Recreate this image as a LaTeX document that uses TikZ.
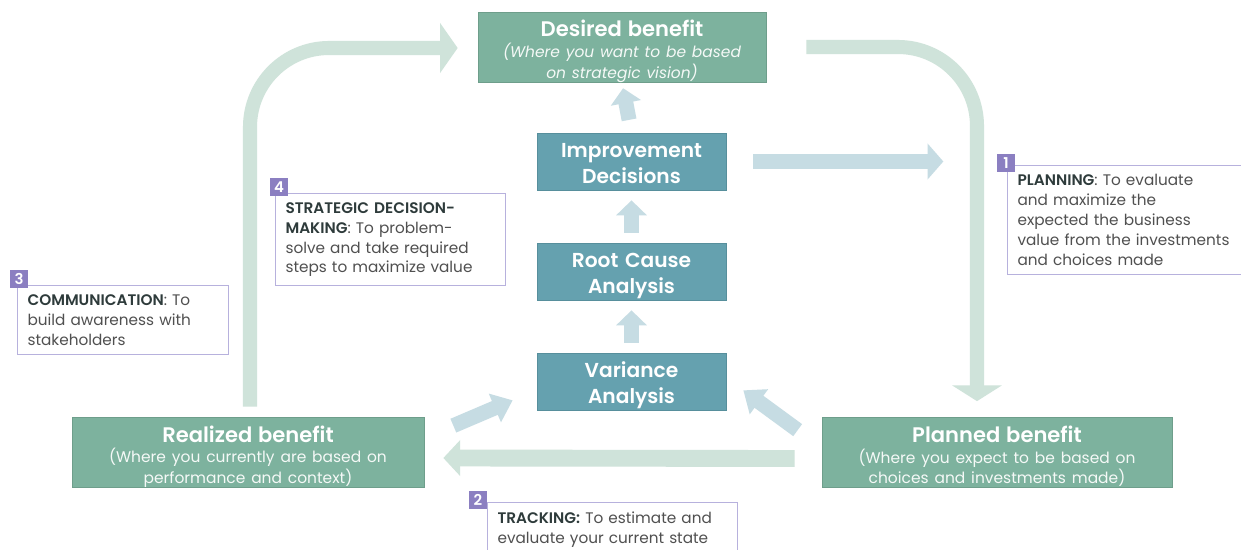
\documentclass[tikz,border=0pt]{standalone}
\usepackage{fontspec}
\setmainfont{Poppins}[BoldFont={Poppins SemiBold}]
\usetikzlibrary{arrows.meta,calc}

\newdimen\pxu \pxu=0.02cm
\definecolor{benefitfill}{HTML}{7DB29E}
\definecolor{benefitedge}{HTML}{6E9E8B}
\definecolor{stepfill}{HTML}{65A1AF}
\definecolor{stepedge}{HTML}{578F9C}
\definecolor{paleblue}{HTML}{C6DCE3}
\definecolor{palegreen}{HTML}{CFE3DA}
\definecolor{notepurple}{HTML}{8B7FC1}
\definecolor{noteline}{HTML}{B7B1DD}
\definecolor{notetext}{HTML}{505050}
\definecolor{notekey}{HTML}{2E3B3B}

\tikzset{
  benefit/.style={draw=benefitedge, fill=benefitfill, text=white, align=center,
    minimum height=70\pxu, inner sep=0pt, text height=10\pxu, text depth=30\pxu},
  analysis/.style={draw=stepedge, fill=stepfill, text=white, align=center,
    minimum width=189\pxu, text width=189\pxu, minimum height=57\pxu, inner sep=0pt,
    text height=10\pxu, text depth=17\pxu,
    font=\fontsize{11.5}{14.7}\selectfont\bfseries},
  note/.style={draw=noteline, line width=0.6pt, anchor=north west, align=left,
    text=notetext, inner xsep=10\pxu, inner ysep=9\pxu,
    font=\fontsize{8.7}{11.3}\selectfont},
  numsq/.style={fill=notepurple, text=white, minimum size=18\pxu, inner sep=0pt,
    font=\fontsize{8.5}{9}\selectfont\bfseries},
  greenarrow/.style={draw=palegreen, line width=8pt, rounded corners=45pt},
  bluearrow/.style={draw=paleblue, line width=8.5pt,
    -{Triangle[width=17pt,length=8.5pt]}},
}
\newcommand{\key}[1]{{\bfseries\color{notekey}#1}}

\begin{document}
\begin{tikzpicture}[x=0.02cm,y=-0.02cm]
\useasboundingbox[fill=white] (0,0) rectangle (1241,550);

% benefit boxes
\node[benefit, minimum width=288\pxu, text width=288\pxu] (desired) at (622,47)
  {{\fontsize{12}{14}\selectfont\bfseries Desired benefit\par}
   {\fontsize{8.8}{11.8}\selectfont\itshape\color{white!92!benefitfill}(Where you want to be based\\ on strategic vision)\par}};
\node[benefit, minimum width=352\pxu, text width=352\pxu] (realized) at (248,452)
  {{\fontsize{12}{14}\selectfont\bfseries Realized benefit\par}
   {\fontsize{8.8}{11.8}\selectfont\color{white!92!benefitfill}(Where you currently are based on\\ performance and context)\par}};
\node[benefit, minimum width=350\pxu, text width=350\pxu] (planned) at (997,452.5)
  {{\fontsize{12}{14}\selectfont\bfseries Planned benefit\par}
   {\fontsize{8.8}{11.8}\selectfont\color{white!92!benefitfill}(Where you expect to be based on\\ choices and investments made)\par}};

% analysis steps
\node[analysis] (improve) at (631.5,161.5) {Improvement\\ Decisions};
\node[analysis] (rootcause) at (631.5,271.5) {Root Cause\\ Analysis};
\node[analysis] (variance) at (631.5,381.5) {Variance\\ Analysis};

% arrows
\draw[greenarrow, -{Triangle[width=28pt,length=10pt]}]
  ($(realized.north)+(2,-10)$) |- ($(desired.west)+(-20,1)$);
\draw[greenarrow, -{Triangle[width=28pt,length=9pt]}]
  ($(desired.east)+(40,0)$) -| ($(planned.north)+(-20,-16)$);
\draw[draw=palegreen, line width=9.6pt, -{Triangle[width=20pt,length=9.6pt]}]
  ($(planned.west)+(-27,6)$) -- ($(realized.east)+(19,6)$);

\draw[bluearrow, shorten <=7.4pt, shorten >=3.4pt] (improve.north) -- (desired.south);
\draw[bluearrow, shorten <=5.7pt, shorten >=5.7pt] (rootcause.north) -- (improve.south);
\draw[bluearrow, shorten <=5.7pt, shorten >=5.7pt] (variance.north) -- (rootcause.south);
\draw[draw=paleblue, line width=9pt, -{Triangle[width=20pt,length=9pt]}]
  ($(improve.east)+(27,0)$) -- ($(improve.east)+(217,0)$);
\draw[bluearrow, -{Triangle[width=17pt,length=11pt]}]
  ($(realized.north east)+(29,9)$) -- ($(variance.south west)+(-24,-10)$);
\draw[bluearrow, -{Triangle[width=17pt,length=11pt]}]
  ($(planned.north west)+(-24,13)$) -- ($(variance.south east)+(17,-20)$);

% notes
\node[note, text width=230\pxu] (plannote) at (1007,165)
  {\key{PLANNING}: To evaluate\\ and maximize the\\ expected the business\\ value from the investments\\ and choices made};
\node[numsq] (n1) at ($(plannote.north west)+(-1,-2)$) {1};

\node[note, text width=230\pxu] (tracknote) at (487,502)
  {\key{TRACKING:} To estimate and\\ evaluate your current state};
\node[numsq] (n2) at ($(tracknote.north west)+(-9,-2)$) {2};

\node[note, text width=191\pxu] (commnote) at (17,285)
  {\key{COMMUNICATION}: To\\ build awareness with\\ stakeholders};
\node[numsq] (n3) at ($(commnote.north west)+(2,-6)$) {3};

\node[note, text width=210\pxu] (stratnote) at (275,193)
  {\key{STRATEGIC DECISION-}\\ \key{MAKING}: To problem-\\ solve and take required\\ steps to maximize value};
\node[numsq] (n4) at ($(stratnote.north west)+(4,-6)$) {4};
\end{tikzpicture}
\end{document}
